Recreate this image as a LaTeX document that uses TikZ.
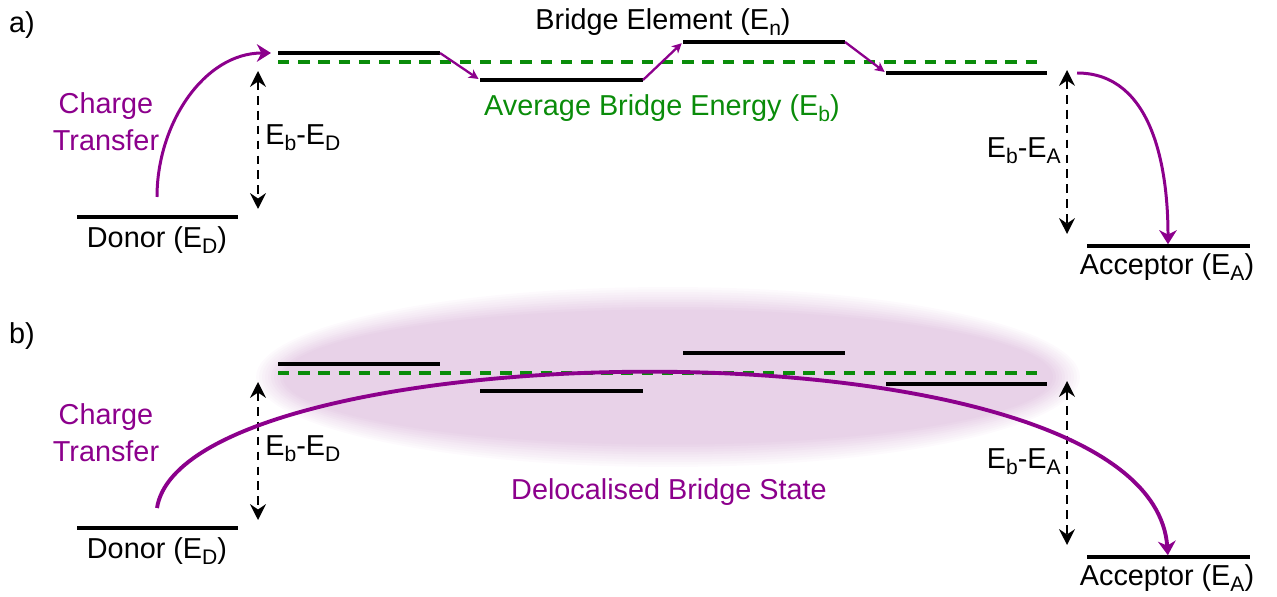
\documentclass[tikz,border=0pt]{standalone}
\usepackage{fontspec}
\setmainfont{Liberation Sans}
\usetikzlibrary{arrows.meta}
\definecolor{ctpurple}{RGB}{140,0,140}
\definecolor{avgreen}{RGB}{10,140,10}
\definecolor{glow}{RGB}{232,210,232}
\newcommand{\lowsub}[1]{\raisebox{-3.5pt}{\fontsize{12}{12}\selectfont #1}}
\tikzstyle{Level}=[line width=2.5pt]
\tikzstyle{Avg}=[avgreen, line width=2pt, dash pattern=on 6.5pt off 5pt]
\tikzstyle{Gap}=[{Stealth[length=9pt,width=9pt,inset=3pt]}-{Stealth[length=9pt,width=9pt,inset=3pt]}, line width=1.1pt, dash pattern=on 5pt off 3.5pt]
\tikzstyle{CT}=[-{Stealth[length=8pt,width=10pt,inset=2.5pt]}, ctpurple, line width=1.7pt]
\tikzstyle{Hop}=[-{Stealth[length=5.5pt,width=5.5pt,inset=1.5pt]}, ctpurple, line width=1.3pt, shorten >=1pt]
\tikzstyle{Label}=[inner sep=0pt]

\begin{document}
\begin{tikzpicture}[x=0.02cm, y=-0.02cm, font=\fontsize{16.4}{21}\selectfont]
\useasboundingbox (0,0) rectangle (1277,597);
% glow behind the bridge of b)
\coordinate (G) at (668,377);
\foreach \i in {1,...,10}
  \fill[glow!\i0!white] (G) ellipse ({8.3cm-\i*0.06cm} and {1.85cm-\i*0.05cm});
% levels, gaps and labels of both panels
\foreach \p/\dy in {a/0, b/311} {
\begin{scope}[shift={(0,\dy)}]
  \node[Label] (tag\p) at (22,25) {\p)};
  \coordinate (Dl\p) at (77,217); \coordinate (Dr\p) at (238,217);
  \coordinate (Al\p) at (1087,246); \coordinate (Ar\p) at (1250,246);
  \coordinate (Am\p) at (1168,246);
  \coordinate (B1l\p) at (278,53); \coordinate (B1r\p) at (440,53);
  \coordinate (B2l\p) at (480,80); \coordinate (B2r\p) at (643,80);
  \coordinate (B3l\p) at (683,42); \coordinate (B3r\p) at (845,42);
  \coordinate (B4l\p) at (886,73); \coordinate (B4r\p) at (1047,73);
  \coordinate (Gl\p) at (278,62); \coordinate (Gr\p) at (1045,62);
  \coordinate (GDt\p) at (258,71); \coordinate (GDb\p) at (258,209);
  \coordinate (GAt\p) at (1067,70); \coordinate (GAb\p) at (1067,234);
  \coordinate (CTs\p) at (157,197);
  \draw[Level] (Dl\p) -- (Dr\p);
  \draw[Level] (Al\p) -- (Ar\p);
  \draw[Level] (B1l\p) -- (B1r\p);
  \draw[Level] (B2l\p) -- (B2r\p);
  \draw[Level] (B3l\p) -- (B3r\p);
  \draw[Level] (B4l\p) -- (B4r\p);
  \draw[Avg] (Gl\p) -- (Gr\p);
  \draw[Gap] (GDt\p) -- (GDb\p);
  \draw[Gap] (GAt\p) -- (GAb\p);
  \node[Label] (don\p) at (157,240) {Donor (E\lowsub{D})};
  \node[Label] (acc\p) at (1167,267) {Acceptor (E\lowsub{A})};
  \node[Label, ctpurple, align=center] (ct\p) at (106,122) {Charge\\Transfer};
  \node[Label, anchor=west] (ebd\p) at (265,138) {E\lowsub{b}-E\lowsub{D}};
  \node[Label, anchor=east] (eba\p) at (1061,151) {E\lowsub{b}-E\lowsub{A}};
\end{scope}}
% a) stepwise hopping
\node[Label] (bel) at (663,22) {Bridge Element (E\lowsub{n})};
\node[Label, avgreen] (abe) at (662,108) {Average Bridge Energy (E\lowsub{b})};
\draw[Hop] (B1ra) -- (B2la);
\draw[Hop] (B2ra) -- (B3la);
\draw[Hop] (B3ra) -- (B4la);
\coordinate (CTea) at (1077,73);
\draw[CT, shorten >=4pt] (CTsa) to[out=90, in=180] (B1la);
\draw[CT, shorten >=1pt] (CTea) to[out=0, in=90] (Ama);
% b) through the delocalised state
\node[Label, ctpurple] (dbs) at (669,492) {Delocalised Bridge State};
\draw[CT, line width=2.2pt, shorten >=1pt] (CTsb) .. controls (185,330) and (1150,310) .. (Amb);
\end{tikzpicture}
\end{document}
